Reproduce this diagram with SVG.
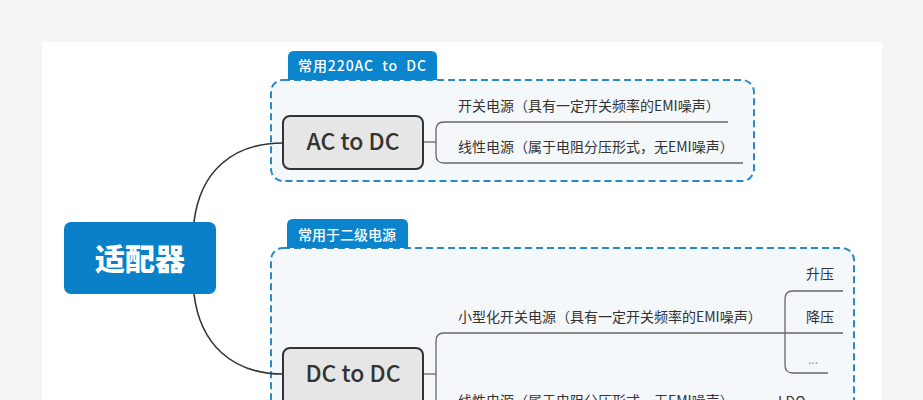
<svg xmlns="http://www.w3.org/2000/svg" width="923" height="400" viewBox="0 0 923 400">
<style>
.cjk{font-family:"Noto Sans CJK SC","Noto Sans",sans-serif}
.leaf{font-size:14px;fill:#333}
.tab{fill:#0a84cc}
.tabt{font-size:14px;fill:#fff;font-weight:500}
.box{fill:#f4f8fb;stroke:#2a88c4;stroke-width:2;stroke-dasharray:7 4}
.node{fill:#e6e6e6;stroke:#333;stroke-width:2}
.nodet{font-size:23px;fill:#333;text-anchor:middle;font-weight:500}
.br{fill:none;stroke:#666;stroke-width:1.3}
.curve{fill:none;stroke:#333;stroke-width:1.6}
</style>
<rect x="0" y="0" width="923" height="400" fill="#f5f5f5"/>
<rect x="42" y="42" width="840" height="370" fill="#fff"/>

<g id="group-ac">
<rect class="box" x="271" y="80" width="483" height="101" rx="12"/>
<path class="tab" d="M288 80 V57 Q288 51 294 51 H431 Q437 51 437 57 V80 Z"/>
<text class="cjk tabt" x="298" y="71" textLength="128" lengthAdjust="spacing">常用220AC&#160;&#160;to&#160;&#160;DC</text>
</g>
<g id="group-dc">
<rect class="box" x="271" y="248" width="583" height="200" rx="12"/>
<path class="tab" d="M287 248 V225 Q287 219 293 219 H402 Q408 219 408 225 V248 Z"/>
<text class="cjk tabt" x="298" y="240">常用于二级电源</text>
</g>

<g id="connectors">
<path class="curve" d="M194 222 C200 172 232 143 283 143"/>
<path class="curve" d="M194 294 C200 344 232 374 283 374"/>
<path class="br" d="M423 142 H436"/>
<path class="br" d="M728 122 H444 Q436 122 436 130 V155 Q436 163 444 163 H743"/>
<path class="br" d="M423 374 H436"/>
<path class="br" d="M843 333 H444 Q436 333 436 341 V410"/>
<path class="br" d="M843 291 H793 Q785 291 785 299 V365 Q785 373 793 373 H828"/>
</g>

<g id="root">
<rect x="64" y="222" width="152" height="72" rx="7" fill="#0a80c8"/>
<text class="cjk" x="140" y="270" font-size="30" font-weight="900" fill="#fff" text-anchor="middle">适配器</text>
</g>
<g id="ac-to-dc">
<rect class="node" x="283" y="116" width="140" height="53" rx="7"/>
<text class="cjk nodet" x="353" y="150">AC to DC</text>
</g>
<g id="dc-to-dc">
<rect class="node" x="283" y="348" width="140" height="60" rx="7"/>
<text class="cjk nodet" x="353" y="382">DC to DC</text>
</g>
<g id="ac-switch"><text class="cjk leaf" x="458" y="111">开关电源（具有一定开关频率的EMI噪声）</text></g>
<g id="ac-linear"><text class="cjk leaf" x="458" y="152">线性电源（属于电阻分压形式，无EMI噪声）</text></g>
<g id="dc-switch"><text class="cjk leaf" x="458" y="322">小型化开关电源（具有一定开关频率的EMI噪声）</text></g>
<g id="dc-linear"><text class="cjk leaf" x="458" y="406">线性电源（属于电阻分压形式，无EMI噪声）</text></g>
<g id="boost"><text class="cjk leaf" x="834" y="279" text-anchor="end">升压</text></g>
<g id="buck"><text class="cjk leaf" x="834" y="322" text-anchor="end">降压</text></g>
<g id="more"><text class="cjk" x="818" y="364" font-size="12" fill="#999" text-anchor="end">...</text></g>
<g id="ldo"><text class="cjk leaf" x="778" y="407">LDO</text></g>
</svg>
